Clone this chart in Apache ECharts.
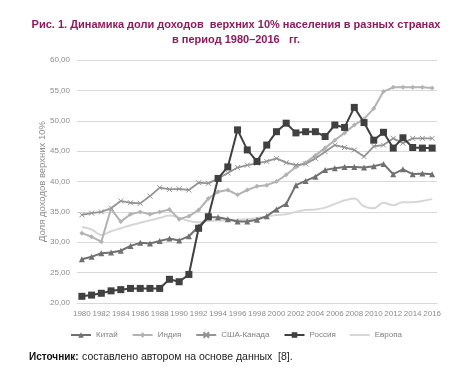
<!DOCTYPE html>
<html>
<head>
<meta charset="utf-8">
<script src="https://cdn.jsdelivr.net/npm/echarts@6/dist/echarts.min.js"></script>
<style>html,body{margin:0;padding:0;background:#fff}#c{width:472px;height:381px}</style>
</head>
<body>
<div id="c"></div>
<script>
var years = [];
for (var y = 1980; y <= 2016; y++) years.push(String(y));

var china = [27.2,27.6,28.2,28.3,28.6,29.4,29.9,29.8,30.2,30.6,30.3,31.0,32.6,34.1,34.1,33.8,33.4,33.4,33.7,34.3,35.4,36.3,39.4,40.1,40.8,41.9,42.2,42.4,42.4,42.3,42.5,42.9,41.2,42.0,41.2,41.3,41.2];
var india = [31.5,30.9,30.1,35.5,33.4,34.6,35.0,34.6,35.0,35.4,33.8,34.3,35.3,37.2,38.3,38.6,37.8,38.6,39.2,39.4,40.0,41.1,42.4,43.1,44.3,45.5,46.8,48.0,49.3,50.3,52.0,54.8,55.5,55.5,55.5,55.5,55.4];
var usa = [34.5,34.8,35.0,35.6,36.8,36.5,36.4,37.6,39.0,38.7,38.8,38.6,39.8,39.7,40.5,41.4,42.3,42.7,43.0,43.3,43.8,43.1,42.7,42.9,43.8,44.9,46.0,45.6,45.2,44.1,45.8,46.0,47.1,46.3,47.1,47.1,47.1];
var russia = [21.1,21.3,21.6,22.0,22.2,22.4,22.4,22.4,22.4,23.9,23.5,24.7,32.3,34.2,40.5,42.4,48.5,45.2,43.3,46.0,48.2,49.6,48.0,48.2,48.2,47.4,49.3,48.9,52.2,49.7,46.8,48.1,45.5,47.2,45.6,45.5,45.5];
var europe = [32.5,32.1,31.2,31.8,32.3,32.8,33.2,33.6,34.0,34.4,34.0,33.5,33.3,33.5,33.6,33.6,33.7,33.8,34.0,34.2,34.5,34.6,35.0,35.3,35.4,35.7,36.3,36.9,37.2,35.9,35.6,36.5,36.1,36.6,36.6,36.8,37.1];

var names = ['Китай','Индия','США-Канада','Россия','Европа'];
var titleLines = ['Рис. 1. Динамика доли доходов  верхних 10% населения в разных странах','в период 1980–2016   гг.'];
var yAxisName = 'Доля доходов верхних 10%';

var chart = echarts.init(document.getElementById('c'), null, {renderer:'canvas'});
var xPath = 'path://M0,0L10,10M10,0L0,10';
chart.setOption({
  animation: false,
  backgroundColor: '#fff',
  title: {
    text: titleLines.join('\n'),
    left: 'center', top: 12,
    textStyle: {fontFamily: 'Liberation Sans', fontSize: 11, fontWeight: 'bold', color: '#8e1b5e', lineHeight: 15}
  },
  grid: {left: 77, right: 35, top: 60, bottom: 78},
  legend: {
    bottom: 37, left: 'center',
    itemWidth: 20, itemHeight: 7, itemGap: 14,
    textStyle: {fontFamily: 'Liberation Sans', fontSize: 8, color: '#7f7f7f'},
    data: [names[0], names[1], names[2], names[3],
      {name: names[4], icon: 'path://M0,0L0.01,0.01M0,2.6h20v1.8h-20zM0,7L0.01,7'}]
  },
  xAxis: {
    type: 'category', data: years, boundaryGap: true,
    axisLine: {lineStyle: {color: '#d9d9d9'}},
    axisTick: {show: false},
    axisLabel: {interval: 1, fontFamily: 'Liberation Sans', fontSize: 8, color: '#8c8c8c', margin: 7}
  },
  yAxis: {
    type: 'value', min: 20, max: 60, interval: 5,
    name: yAxisName, nameLocation: 'middle', nameGap: 30, nameMoveOverlap: false,
    nameTextStyle: {fontFamily: 'Liberation Sans', fontSize: 9.5, color: '#8c8c8c'},
    axisLine: {show: false}, axisTick: {show: false},
    splitLine: {lineStyle: {color: '#d9d9d9'}},
    axisLabel: {fontFamily: 'Liberation Sans', fontSize: 8, color: '#8c8c8c', margin: 7,
      formatter: function (v) { return v.toFixed(2).replace('.', ','); }}
  },
  series: [
    {name: names[0], type: 'line', data: china, symbol: 'triangle', symbolSize: 6, showAllSymbol: true,
      lineStyle: {color: '#707070', width: 2}, itemStyle: {color: '#707070'}, z: 3},
    {name: names[1], type: 'line', data: india, symbol: 'diamond', symbolSize: 5, showAllSymbol: true,
      lineStyle: {color: '#b3b3b3', width: 2}, itemStyle: {color: '#b3b3b3'}, z: 2},
    {name: names[2], type: 'line', data: usa, symbol: xPath, symbolSize: 5, showAllSymbol: true,
      lineStyle: {color: '#949494', width: 1.8}, itemStyle: {color: '#949494', borderColor: '#949494', borderWidth: 1}, z: 2},
    {name: names[3], type: 'line', data: russia, symbol: 'rect', symbolSize: 7, showAllSymbol: true,
      lineStyle: {color: '#404040', width: 2}, itemStyle: {color: '#404040'}, z: 4},
    {name: names[4], type: 'line', data: europe, symbol: 'none', smooth: 0.4, showSymbol: false,
      lineStyle: {color: '#d6d6d6', width: 2}, itemStyle: {color: '#d6d6d6'}, z: 1}
  ],
  graphic: [{
    type: 'text', left: 29, top: 351,
    style: {
      text: '{b|Источник:} {r|составлено автором на основе данных  [8].}',
      rich: {
        b: {fontFamily: 'Liberation Sans', fontSize: 10, fontWeight: 'bold', fill: '#111'},
        r: {fontFamily: 'Liberation Sans', fontSize: 10.5, fill: '#222'}
      }
    }
  }]
});
</script>
</body>
</html>
